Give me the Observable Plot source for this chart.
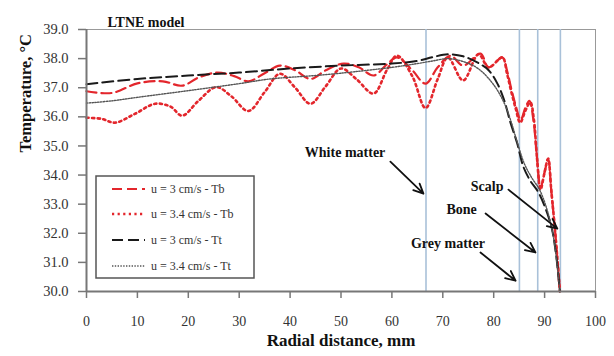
<!DOCTYPE html>
<html><head><meta charset="utf-8">
<script src="https://cdn.jsdelivr.net/npm/d3@7"></script>
<script src="https://cdn.jsdelivr.net/npm/@observablehq/plot@0.6"></script>
<style>
body{margin:0;background:#fff}
#wrap{position:relative;width:614px;height:356px}
#legend{position:absolute;left:95px;top:175px}
#wrap svg text{font-family:"Liberation Serif","Times New Roman",serif}
</style>
</head><body><div id="wrap"></div>
<script>
// ---- data ----
const title = "LTNE model";
const xLabel = "Radial distance, mm";
const yLabel = "Temperature, °C";
const xTicks = [0,10,20,30,40,50,60,70,80,90,100];
const yTicks = [30,31,32,33,34,35,36,37,38,39];

const seriesNames = ["u = 3 cm/s - Tb", "u = 3.4 cm/s - Tb", "u = 3 cm/s - Tt", "u = 3.4 cm/s - Tt"];

const tbU3X = [0,5,10,15,18.8,22,25.7,29,31.8,35,38,41,44,47,50.5,53.5,56.4,59,61,64,66.6,69,71.5,74,77.4,79,81.7,82.6,83.4,84.3,85.3,86.2,87,87.8,88.5,89.2,90,90.7,91.3,92.2,93];
const tbU3T = [36.88,36.82,37.15,37.22,37.07,37.35,37.52,37.4,37.22,37.5,37.76,37.6,37.3,37.6,37.83,37.7,37.42,37.8,38.04,37.6,37.14,37.7,38.1,37.76,38.17,37.7,38.04,37.6,37.0,36.4,35.9,36.3,36.55,35.9,34.6,33.57,34.1,34.55,33.5,31.8,30.0];

const tbU34X = [0,3,5.6,9.5,13.5,16.5,18.8,22,25.5,28.5,31.8,35,38,41,44,47,50,53,56.4,59,61,64,66.6,69,71,74,77,79,81.7,82.6,83.4,84.3,85.2,86.2,87.2,87.9,88.5,89.2,90,90.7,91.3,92.2,93];
const tbU34T = [35.97,35.93,35.8,36.1,36.45,36.35,36.04,36.55,37.02,36.7,36.2,36.85,37.48,37.0,36.45,37.05,37.66,37.3,36.8,37.6,38.1,37.4,36.3,37.3,38.04,37.25,38.15,37.7,38.04,37.5,36.9,36.3,35.8,36.2,36.5,35.9,34.6,33.5,34.1,34.57,33.5,31.8,30.0];

const ttU3X = [0,10,20,30,40,50,60,65,68,71,74,77,79,80.7,82,83.3,84.6,85.8,87.2,88.8,90.5,91.5,92.3,93];
const ttU3T = [37.12,37.3,37.42,37.52,37.66,37.76,37.83,37.92,38.05,38.15,38.08,37.85,37.6,37.15,36.6,35.8,35.1,34.3,33.8,33.4,32.7,32.1,31.2,30.0];

const ttU34X = [0,5,10,20,30,36,45,50,60,65,68,71,74,77,80,82,83.3,84.5,86,87.5,89,90.5,91.8,93];
const ttU34T = [36.47,36.55,36.67,36.9,37.14,37.3,37.42,37.5,37.7,37.83,37.92,38.0,37.9,37.65,37.1,36.5,35.9,35.2,34.4,33.9,33.5,32.8,31.8,30.0];

const boundaryX = [66.7, 85.05, 88.65, 93.1];

const annLabels = ["White matter", "Scalp", "Bone", "Grey matter"];
const annX = [50.8, 78.7, 73.7, 71.0];
const annY = [34.77, 33.6, 32.81, 31.65];
const arrowX1 = [59.7, 82.9, 78.4, 77.4];
const arrowY1 = [34.46, 33.5, 32.68, 31.34];
const arrowX2 = [66.2, 92.5, 88.2, 84.3];
const arrowY2 = [33.36, 32.16, 31.34, 30.37];

// ---- styles ----
const seriesStyles = [
  {stroke:"#e3262c", strokeWidth:2.2, dash:"10,5"},
  {stroke:"#e3262c", strokeWidth:2.6, dash:"2.2,3.4"},
  {stroke:"#1a1a1a", strokeWidth:2, dash:"11,5"},
  {stroke:"#555", strokeWidth:1.4, dash:"1.4,1.4"}
];
const seriesXs = [tbU3X, tbU34X, ttU3X, ttU34X];
const seriesTs = [tbU3T, tbU34T, ttU3T, ttU34T];

const font = "Liberation Serif, Times New Roman, serif";

const lineMarks = seriesNames.map((name, i) => {
  const data = seriesXs[i].map((x, j) => ({x, t: seriesTs[i][j]}));
  const s = seriesStyles[i];
  return Plot.line(data, {x:"x", y:"t", stroke:s.stroke, strokeWidth:s.strokeWidth, strokeDasharray:s.dash, curve:"catmull-rom"});
});

const ann = annLabels.map((t, i) => ({t, x:annX[i], y:annY[i], x1:arrowX1[i], y1:arrowY1[i], x2:arrowX2[i], y2:arrowY2[i]}));

const chart = Plot.plot({
  width:614, height:356,
  marginLeft:86, marginRight:19, marginTop:29, marginBottom:65,
  style:{fontFamily:font, fontSize:"14px", color:"#333", background:"#fff", overflow:"visible"},
  x:{domain:[0,100], axis:null},
  y:{domain:[30,39], axis:null},
  marks:[
    Plot.frame({stroke:"#999", strokeWidth:1}),
    Plot.ruleX(boundaryX, {stroke:"#a9c1d9", strokeWidth:1.6}),
    ...lineMarks,
    Plot.ruleY([30], {stroke:"#777", strokeWidth:2}),
    Plot.ruleX([0], {stroke:"#777", strokeWidth:2}),
    Plot.axisX({ticks:xTicks, tickSize:7, tickPadding:18, stroke:"#777", strokeWidth:1.5, fill:"#333", fontSize:14, fontFamily:font, label:null, tickFormat:d=>d}),
    Plot.axisY({ticks:yTicks, tickSize:8, tickPadding:10, stroke:"#777", strokeWidth:1.5, fill:"#333", fontSize:14.5, fontFamily:font, label:null, tickFormat:d=>d.toFixed(1)}),
    Plot.arrow(ann, {x1:"x1", y1:"y1", x2:"x2", y2:"y2", stroke:"#111", strokeWidth:1.8, headLength:9, headAngle:50}),
    Plot.text(ann, {x:"x", y:"y", text:"t", fontWeight:"bold", fontSize:14, fontFamily:font, fill:"#111"}),
    Plot.text([title], {frameAnchor:"top-left", dx:21, dy:-12, textAnchor:"start", fontWeight:"bold", fontSize:14, fontFamily:font, fill:"#111"}),
    Plot.text([xLabel], {frameAnchor:"bottom", dy:54, fontWeight:"bold", fontSize:17, fontFamily:font, fill:"#111"}),
    Plot.text([yLabel], {frameAnchor:"left", dx:-61, dy:-8, rotate:-90, fontWeight:"bold", fontSize:16.5, fontFamily:font, fill:"#111"})
  ]
});
const wrap = document.getElementById("wrap");
wrap.appendChild(chart);

// ---- legend ----
const lw = 160, lh = 104;
const leg = d3.select(wrap).append("svg").attr("id","legend").attr("width", lw).attr("height", lh);
leg.append("rect").attr("x",1).attr("y",1).attr("width",lw-2).attr("height",lh-2).attr("fill","#fff").attr("stroke","#555").attr("stroke-width",1.5);
const rowY = [14, 39, 65, 91];
seriesNames.forEach((name, i) => {
  const s = seriesStyles[i];
  leg.append("line").attr("x1",17).attr("x2",50).attr("y1",rowY[i]).attr("y2",rowY[i])
    .attr("stroke",s.stroke).attr("stroke-width",s.strokeWidth).attr("stroke-dasharray",s.dash);
  leg.append("text").attr("x",56).attr("y",rowY[i]).attr("dy","0.35em")
    .attr("font-family",font).attr("font-size",12).attr("fill","#333").text(name);
});
</script>
</body></html>
